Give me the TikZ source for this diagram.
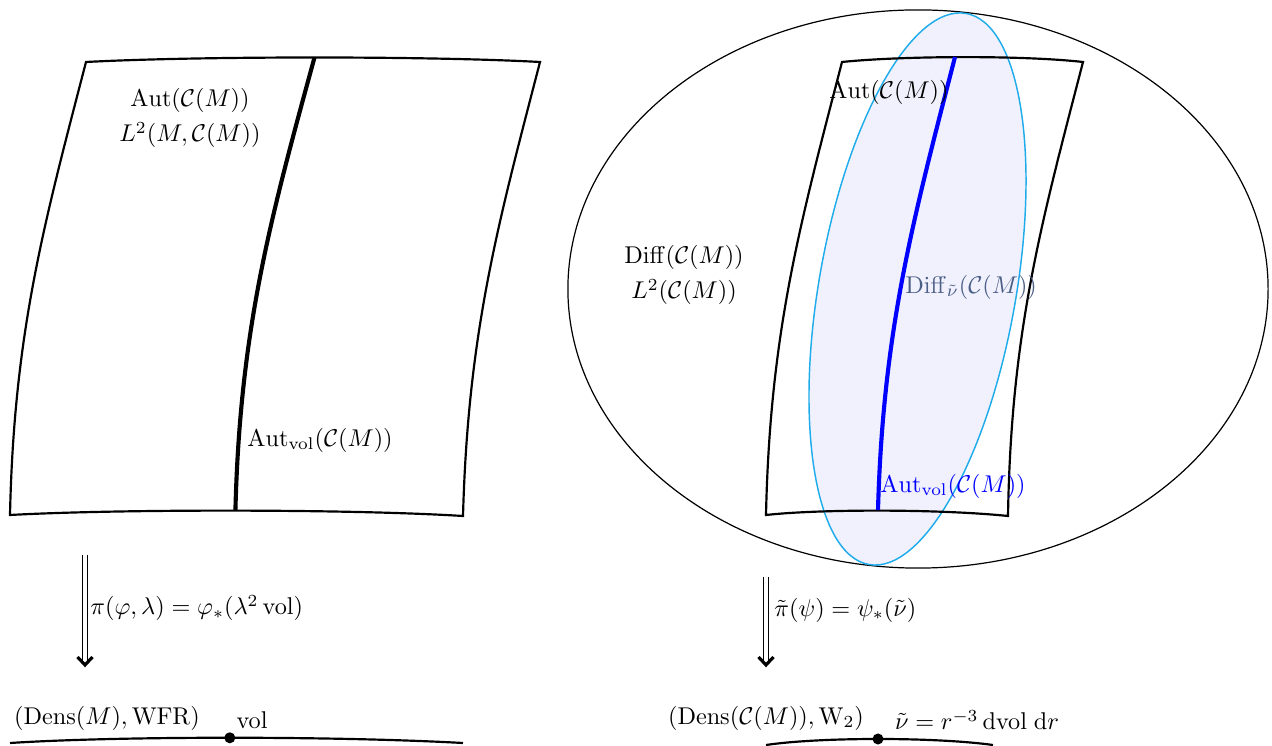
\documentclass[tikz,border=0pt]{standalone}
\usepackage{amsmath}
\definecolor{ellcyan}{RGB}{30,172,235}
\definecolor{ellfill}{RGB}{241,241,253}
\definecolor{difcol}{RGB}{75,95,135}
\begin{document}
\begin{tikzpicture}[x=0.0145cm,y=-0.0145cm,
  sheet/.style={line width=0.9pt},
  fiber/.style={line width=1.7pt},
  thinell/.style={line width=0.5pt},
  dbl/.style={double, line width=0.45pt, double distance=1.3pt},
  chev/.style={line width=1.3pt},
  dotnode/.style={circle, fill=black, inner sep=0pt, minimum size=0.16cm},
  lab/.style={inner sep=0pt}]
\useasboundingbox (0,0) rectangle (1272,746);

% big ellipse
\node[lab] (bigc) at (918,289) {};
\draw[thinell] (bigc.center) ellipse [x radius=5.075cm, y radius=4.0455cm];
% tilted ellipse
\begin{scope}[shift={(917.5,289)}, rotate=-10]
  \draw[fill=ellfill, draw=ellcyan, line width=0.6pt] (0,0) ellipse [x radius=1.428cm, y radius=4.0557cm];
\end{scope}

% left sheet
\coordinate (LTL) at (86,62);
\coordinate (LTR) at (540,62);
\coordinate (LBR) at (463,516);
\coordinate (LBL) at (10,515);
\coordinate (LMT) at (314.5,57.5);
\coordinate (LMB) at (235.4,510.6);
\draw[sheet] (LTL) .. controls (200,56) and (430,56) .. (LTR)
  .. controls (498,224) and (468,332) .. (LBR)
  .. controls (350,509) and (120,509) .. (LBL)
  .. controls (14,332) and (44,224) .. cycle;
\draw[fiber] (LMT) .. controls (270,220) and (240,330) .. (LMB);

% right sheet
\coordinate (RTL) at (842,62);
\coordinate (RTR) at (1083,62);
\coordinate (RBR) at (1008,516);
\coordinate (RBL) at (766,515);
\coordinate (RMT) at (955,57);
\coordinate (RMB) at (878,510);
\draw[sheet] (RTL) .. controls (900,56) and (1020,55) .. (RTR)
  .. controls (1041,224) and (1011,332) .. (RBR)
  .. controls (940,509) and (820,509) .. (RBL)
  .. controls (770,332) and (800,224) .. cycle;
\draw[fiber, blue] (RMT) .. controls (913,220) and (883,330) .. (RMB);

% labels left sheet
\node[lab] (l1) at (190,100) {$\mathrm{Aut}(\mathcal{C}(M))$};
\node[lab] (l2) at (190,135) {$L^2(M,\mathcal{C}(M))$};
\node[lab, anchor=west] (l3) at (247,440) {$\mathrm{Aut}_{\mathrm{vol}}(\mathcal{C}(M))$};

% labels right
\node[lab] (r1) at (889,92) {$\mathrm{Aut}(\mathcal{C}(M))$};
\node[lab] (r2) at (684,257) {$\mathrm{Diff}(\mathcal{C}(M))$};
\node[lab] (r3) at (684,292) {$L^2(\mathcal{C}(M))$};
\node[lab, anchor=west, text=difcol] (r4) at (905,287) {$\mathrm{Diff}_{\tilde\nu}(\mathcal{C}(M))$};
\node[lab, anchor=west, text=blue] (r5) at (880,486) {$\mathrm{Aut}_{\mathrm{vol}}(\mathcal{C}(M))$};

% arrows
\coordinate (A1s) at (85,555);
\coordinate (A1e) at (85,661);
\coordinate (A1t) at (85,665);
\draw[dbl] (A1s) -- (A1e);
\draw[chev] (A1t) ++(-7.5,-8) -- ++(7.5,8) -- ++(7.5,-8);
\node[lab, anchor=west] (pl) at (90,608) {$\pi(\varphi,\lambda) = \varphi_*(\lambda^2\,\mathrm{vol})$};

\coordinate (A2s) at (766,577);
\coordinate (A2e) at (766,661);
\coordinate (A2t) at (766,665);
\draw[dbl] (A2s) -- (A2e);
\draw[chev] (A2t) ++(-7.5,-8) -- ++(7.5,8) -- ++(7.5,-8);
\node[lab, anchor=west] (pr) at (774,610) {$\tilde\pi(\psi) = \psi_*(\tilde\nu)$};

% bottom curves
\coordinate (BL1) at (10,743);
\coordinate (BL2) at (463,743);
\draw[sheet] (BL1) .. controls (120,736) and (335,736) .. (BL2);
\node[dotnode] (vL) at (229.8,737.8) {};
\node[lab] (dl) at (107,718) {$(\mathrm{Dens}(M),\mathrm{WFR})$};
\node[lab] (vl) at (252,720) {$\mathrm{vol}$};

\coordinate (BR1) at (766,745);
\coordinate (BR2) at (993,745);
\draw[sheet] (BR1) .. controls (820,737) and (935,737) .. (BR2);
\node[dotnode] (vR) at (878,739) {};
\node[lab] (dr) at (766,718) {$(\mathrm{Dens}(\mathcal{C}(M)),\mathrm{W}_2)$};
\node[lab] (nr) at (977,720) {$\tilde\nu = r^{-3}\,\mathrm{dvol}\;\mathrm{d}r$};
\end{tikzpicture}
\end{document}
